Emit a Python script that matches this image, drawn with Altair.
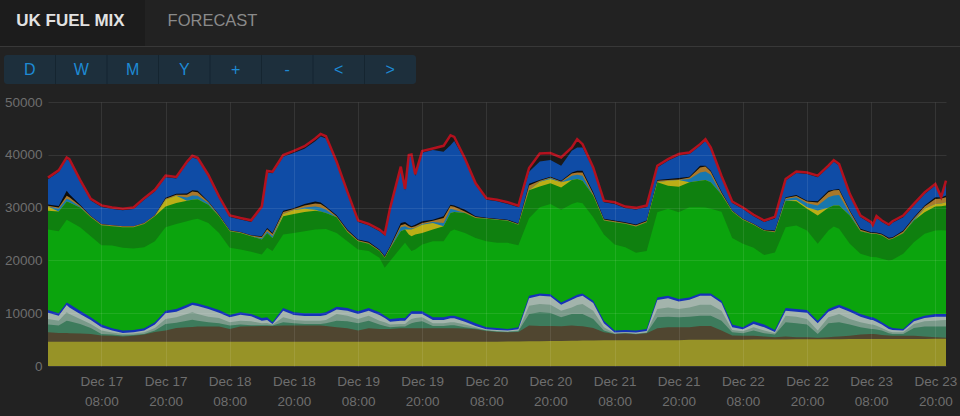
import altair as alt
import pandas as pd

# ---------------- data (cumulative tops of each band, MW) ----------------
START = "2013-12-16 22:00"
HOURS = [0, 2, 3.5, 4, 6, 8, 10, 12, 14, 16,
         18, 20, 22, 24, 26, 27, 28, 30, 32, 34,
         36, 38, 40, 41, 42, 44, 46, 48, 50, 51,
         52, 54, 56, 58, 60, 62, 63, 64, 66, 66.8,
         67.5, 68, 68.7, 70, 72, 74, 75.3, 76, 78, 80,
         82, 84, 86, 88, 90, 92, 94, 96, 98, 99,
         100, 102, 104, 106, 108, 110, 112, 114, 116, 118,
         120, 122, 123, 124, 126, 128, 130, 132, 134, 136,
         138, 140, 142, 144, 146, 147, 148, 150, 152, 154,
         154.3, 155, 156, 157.3, 158, 160, 162, 164, 166, 167.1,
         168]

OLIVE = [4600, 4600, 4600, 4600, 4600, 4600, 4600, 4600, 4600, 4600,
         4600, 4600, 4600, 4600, 4600, 4600, 4600, 4600, 4600, 4600,
         4600, 4600, 4600, 4600, 4600, 4600, 4600, 4600, 4600, 4600,
         4600, 4600, 4600, 4600, 4600, 4600, 4600, 4600, 4600, 4600,
         4600, 4600, 4600, 4600, 4600, 4600, 4600, 4600, 4600, 4600,
         4600, 4600, 4650, 4650, 4700, 4700, 4750, 4750, 4800, 4800,
         4850, 4850, 4900, 4900, 4900, 4900, 4900, 4900, 4900, 4900,
         4950, 4950, 4950, 4950, 4950, 4950, 4950, 5000, 5000, 5000,
         5000, 5050, 5050, 5050, 5050, 5050, 5050, 5100, 5100, 5100,
         5100, 5100, 5100, 5100, 5100, 5100, 5100, 5100, 5150, 5150,
         5150]
BROWN = [6400, 6270, 6270, 6210, 6140, 6080, 5770, 5710, 5580, 5710,
         5960, 6460, 6710, 7210, 7340, 7400, 7460, 7460, 7460, 7020,
         7460, 7520, 7590, 7590, 7590, 7650, 7650, 7650, 7650, 7650,
         7590, 7340, 7150, 6710, 7150, 7020, 7020, 7020, 7150, 7150,
         7150, 7150, 7150, 7150, 7150, 7150, 7150, 7150, 7090, 6960,
         6650, 6460, 6400, 6460, 7650, 7590, 7590, 7520, 7650, 7590,
         7520, 7210, 6400, 6080, 6140, 6020, 6210, 7150, 7340, 7340,
         7340, 7590, 7590, 7590, 6710, 5770, 5710, 5710, 5580, 5450,
         5580, 5450, 5450, 5330, 5450, 5520, 5580, 5710, 5960, 6080,
         6080, 6000, 5890, 5770, 5710, 5710, 5710, 5580, 5450, 5400,
         5330]
TEAL_GREEN = [7840, 7650, 8590, 8460, 7960, 7210, 6080, 5960, 5770, 5890,
              6080, 6710, 7960, 8210, 8590, 8780, 8590, 8280, 8090, 7650,
              7840, 7710, 7710, 7710, 7650, 8280, 8090, 7960, 7960, 7960,
              8090, 8590, 8460, 8090, 8590, 7840, 7590, 7340, 7460, 7460,
              7840, 8090, 8280, 8460, 7590, 7590, 7710, 7710, 7340, 7090,
              6710, 6520, 6460, 6580, 9840, 10160, 10030, 9220, 9840, 9840,
              9840, 8900, 6710, 6080, 6210, 6080, 6270, 9220, 9340, 9220,
              9340, 9530, 9530, 9530, 8590, 6400, 6210, 6710, 6210, 5960,
              8280, 8090, 7840, 6080, 8090, 8210, 8280, 7840, 7340, 7020,
              7020, 6900, 6710, 6210, 6080, 6080, 7210, 7460, 7460, 7460,
              7460]
GRAY_GREEN = [8900, 8590, 10160, 9840, 8900, 7960, 6710, 6330, 6080, 6140,
              6400, 7210, 8900, 9220, 9840, 10160, 9840, 9340, 9090, 8280,
              8590, 8460, 8090, 8150, 7840, 9220, 8720, 8590, 8590, 8590,
              8720, 9840, 9530, 8900, 9530, 8590, 8280, 7840, 7960, 7960,
              8590, 8900, 9090, 9220, 8090, 8090, 8280, 8280, 7840, 7340,
              6830, 6650, 6520, 6710, 11410, 11720, 11600, 10470, 11100, 11540,
              11720, 10470, 7340, 6210, 6330, 6140, 6400, 10780, 11100, 10780,
              11100, 11600, 11600, 11600, 10470, 6830, 6580, 7340, 6710, 6210,
              9530, 9340, 8900, 6710, 9220, 9530, 9840, 8900, 8280, 7840,
              7840, 7600, 7210, 6580, 6400, 6400, 7960, 8460, 8590, 8650,
              8720]
LIGHT_GRAY = [10100, 9530, 11540, 11100, 9840, 8720, 7340, 6710, 6270, 6400,
              6710, 7840, 9970, 10280, 11100, 11540, 11350, 10780, 10100, 9220,
              9720, 9400, 8590, 8720, 7960, 10470, 9650, 9470, 9470, 9470,
              9650, 10720, 10470, 9840, 10470, 9650, 9090, 8400, 8590, 8590,
              9340, 9840, 9840, 9840, 8720, 8720, 9030, 9030, 8400, 7590,
              6960, 6830, 6710, 6960, 12850, 13290, 13170, 11600, 12540, 13040,
              13290, 11910, 8090, 6330, 6460, 6330, 6650, 12480, 12850, 12230,
              12540, 13290, 13290, 13290, 11910, 7340, 6960, 7960, 7340, 6460,
              10470, 10280, 10100, 8090, 10280, 10720, 11100, 10280, 9340, 8720,
              8720, 8400, 7840, 7020, 6830, 6710, 8460, 9090, 9340, 9340,
              9340]
BLUE_BAND = [10600, 9970, 12040, 11720, 10470, 9220, 7840, 7150, 6710, 6830,
             7150, 8280, 10470, 10780, 11600, 12040, 11850, 11290, 10600, 9650,
             10160, 9840, 9090, 9220, 8280, 10970, 10160, 9970, 9970, 9970,
             10160, 11220, 10970, 10350, 10970, 10160, 9530, 8900, 9090, 9090,
             9840, 10350, 10350, 10350, 9220, 9220, 9530, 9530, 8900, 8090,
             7340, 7210, 7020, 7340, 13290, 13730, 13610, 12040, 12980, 13480,
             13730, 12350, 8590, 6710, 6830, 6710, 7020, 12980, 13290, 12670,
             12980, 13730, 13730, 13730, 12350, 7840, 7340, 8460, 7840, 6830,
             10970, 10780, 10600, 8590, 10780, 11220, 11600, 10780, 9840, 9220,
             9220, 8900, 8280, 7460, 7210, 7020, 8900, 9530, 9840, 9840,
             9840]
BRIGHT_GREEN = [25830, 25520, 27710, 27400, 26270, 24580, 22890, 22820, 22380, 22260,
                22510, 23640, 26270, 26900, 27400, 27710, 27900, 27090, 25210, 22380,
                22070, 21630, 21130, 22380, 21760, 24890, 25210, 25520, 25830, 25900,
                25960, 25210, 23640, 22070, 21760, 20500, 18620, 19880, 22380, 23320,
                22380, 21760, 22070, 23010, 23640, 23640, 25520, 25830, 25210, 24260,
                23640, 23320, 23320, 22890, 28000, 30060, 30700, 29570, 30700, 31000,
                30810, 28170, 24890, 23010, 22510, 21440, 21760, 29120, 29760, 29120,
                30060, 30060, 30000, 29760, 29200, 24260, 23140, 22380, 21000, 21500,
                26290, 26610, 25660, 23150, 25660, 26420, 25980, 23150, 21270, 20630,
                20630, 20600, 20320, 20000, 20130, 21270, 23460, 25040, 25660, 25700,
                25660]
DARK_GREEN = [29400, 29280, 31160, 30970, 30030, 28150, 26650, 26460, 26270, 26270,
              26900, 28340, 30220, 30850, 31290, 31480, 31600, 30530, 28340, 25520,
              25210, 24580, 23950, 25210, 24260, 28340, 28780, 29150, 29400, 29280,
              28970, 28150, 25390, 23640, 23140, 21760, 20500, 22260, 25520, 25830,
              24890, 24580, 24890, 25210, 25830, 26460, 28970, 29150, 28970, 28030,
              27900, 27710, 27500, 26770, 33300, 34000, 34590, 33830, 35230, 35420,
              35100, 32270, 27550, 27230, 26930, 26420, 27230, 34780, 34150, 33970,
              34780, 35100, 35230, 34780, 32500, 29280, 27710, 26770, 25600, 25340,
              31320, 31190, 29760, 28490, 29950, 30380, 30380, 28490, 25530, 25040,
              25040, 25000, 24720, 23910, 24100, 25150, 27550, 29120, 30190, 30250,
              30380]
YELLOW = [30200, 29280, 31160, 30970, 30030, 28150, 26650, 26460, 26270, 26270,
          26900, 28340, 31480, 32230, 31290, 31480, 31600, 30530, 28340, 25520,
          25210, 24580, 23950, 25210, 24260, 28780, 29530, 29780, 29590, 29280,
          28970, 28150, 25390, 23640, 23140, 21760, 20500, 22260, 25520, 25830,
          25830, 25830, 26150, 26770, 27090, 26460, 28970, 29150, 28970, 28030,
          27900, 27710, 27500, 26770, 33300, 34900, 35420, 34780, 35230, 35420,
          35100, 32270, 27550, 27230, 26930, 26420, 27230, 34780, 35100, 35230,
          34780, 35100, 35230, 34780, 32500, 29280, 27710, 26770, 25600, 25340,
          31320, 31460, 30060, 29440, 29950, 30380, 30380, 28490, 25530, 25040,
          25040, 25000, 24720, 23910, 24100, 25150, 27550, 29760, 30700, 30800,
          31000]
TEAL = [30200, 29780, 31660, 31480, 30160, 28150, 26650, 26460, 26270, 26270,
        26900, 28340, 31480, 32230, 31920, 32290, 32230, 30850, 28340, 25520,
        25210, 24580, 24200, 25500, 24600, 28780, 29530, 30030, 30220, 30030,
        29590, 28150, 25390, 23640, 23140, 21760, 20500, 22260, 26270, 26460,
        26150, 26020, 26150, 26900, 27270, 27090, 29780, 29590, 28970, 28030,
        27900, 27710, 27500, 26770, 33300, 34950, 35610, 34780, 36040, 36230,
        36040, 32270, 27550, 27230, 26930, 26420, 27230, 34780, 35100, 35230,
        35420, 36660, 36850, 36200, 32500, 29280, 27710, 26770, 25600, 25340,
        31640, 31950, 30810, 30380, 31950, 32300, 32400, 28930, 25530, 25040,
        25040, 25000, 24720, 23910, 24100, 25150, 27800, 29760, 30700, 30800,
        31000]
ORANGE = [30350, 30030, 32230, 31980, 30350, 28340, 26840, 26650, 26460, 26460,
          27090, 28530, 31660, 32420, 32420, 33040, 32920, 31040, 28530, 25650,
          25330, 24700, 24450, 25900, 25000, 29150, 29720, 30410, 30790, 30660,
          30030, 28340, 25650, 23800, 23350, 21900, 20650, 22500, 26650, 26900,
          26460, 26270, 26460, 27090, 27530, 28030, 30280, 30160, 29280, 28200,
          28000, 27800, 27600, 26900, 34200, 35100, 35720, 34950, 36480, 36660,
          36660, 32600, 27750, 27400, 27100, 26650, 27400, 35100, 35230, 35340,
          35720, 37610, 37800, 36800, 32800, 29400, 27850, 26900, 25700, 25500,
          31830, 32210, 31140, 30950, 32890, 33300, 33340, 29310, 25800, 25200,
          25200, 25150, 24900, 24100, 24250, 25450, 27980, 30190, 31640, 31700,
          31950]
BLACK = [30600, 30280, 33170, 32540, 30530, 28400, 26900, 26650, 26460, 26460,
         27090, 28530, 31850, 32600, 32670, 33290, 33170, 31160, 28650, 25710,
         25390, 24770, 24580, 26150, 25210, 29400, 29910, 30660, 31160, 30970,
         30220, 28530, 25830, 23950, 23510, 22070, 20820, 22700, 27090, 27270,
         26770, 26460, 26770, 27400, 27710, 28340, 30530, 30410, 29590, 28340,
         28090, 27900, 27700, 27000, 34500, 35230, 35850, 35100, 36660, 36990,
         36990, 32890, 27870, 27550, 27230, 26800, 27550, 35230, 35420, 35610,
         35850, 37930, 37930, 36990, 33000, 29470, 27900, 26960, 25800, 25660,
         31950, 32400, 31320, 31190, 33210, 33400, 33530, 29440, 25980, 25340,
         25340, 25300, 25040, 24290, 24400, 25660, 28170, 30380, 31950, 31900,
         32270]
BLUE_TOP = [35380, 36760, 39200, 38890, 34940, 31360, 30110, 29730, 29480, 29730,
            31490, 33060, 35750, 35500, 38390, 39510, 39140, 35880, 31800, 28230,
            27730, 27290, 29920, 36630, 36500, 39640, 40360, 41130, 42580, 43450,
            43110, 38390, 32740, 27290, 26600, 25530, 24720, 29610, 37450, 33240,
            39640, 39760, 36000, 40390, 40890, 40570, 41820, 42600, 39010, 34310,
            31490, 31180, 30700, 30050, 36800, 38740, 39000, 37930, 40760, 41380,
            41380, 37310, 31020, 30700, 29890, 29650, 30080, 37600, 38870, 39820,
            40140, 41700, 42600, 41080, 35700, 30860, 29730, 28350, 27250, 27950,
            35120, 36550, 36360, 35740, 37630, 38700, 37950, 32290, 28190, 26930,
            26400, 28100, 27250, 26500, 27120, 28190, 30400, 32590, 34180, 32000,
            34800]
TOTAL = [35680, 37060, 39500, 39190, 35240, 31660, 30410, 30030, 29780, 30030,
         31790, 33360, 36050, 35800, 38690, 39810, 39440, 36180, 32100, 28530,
         28030, 27590, 30220, 36930, 36800, 39940, 40760, 41630, 43080, 43950,
         43510, 38690, 33040, 27590, 26900, 25830, 25020, 29910, 37750, 33540,
         39940, 40060, 36300, 40690, 41190, 41700, 43700, 43390, 39310, 34610,
         31790, 31480, 31000, 30350, 37500, 40250, 40330, 39500, 41380, 42970,
         42020, 37610, 31320, 31000, 30190, 29950, 30380, 37930, 39190, 40140,
         40440, 42020, 42970, 41380, 36000, 31160, 30030, 28650, 27550, 28250,
         35420, 36850, 36660, 36040, 37930, 39000, 38250, 32590, 28490, 27230,
         26700, 28400, 27550, 26800, 27420, 28490, 30700, 32890, 34480, 32000,
         35100]

TAB_LABELS = ["UK FUEL MIX", "FORECAST"]
BUTTONS = ["D", "W", "M", "Y", "+", "-", "<", ">"]
Y_TICKS = [0, 10000, 20000, 30000, 40000, 50000]
X_TICK_DAYS = [17, 18, 19, 20, 21, 22, 23]
X_TICK_HOURS = [8, 20]

# drawn back-to-front: each band is an area from 0 up to its cumulative top
BANDS = [
    ("other", TOTAL, "#1a1a1a"),
    ("coal", BLUE_TOP, "#0f4ca6"),
    ("oil", BLACK, "#0c0c0c"),
    ("ocgt", ORANGE, "#a8782b"),
    ("pumped", TEAL, "#1877ae"),
    ("hydro", YELLOW, "#bbae16"),
    ("ccgt2", DARK_GREEN, "#0f800f"),
    ("ccgt", BRIGHT_GREEN, "#0ba40d"),
    ("ict", BLUE_BAND, "#1531b8"),
    ("wind", LIGHT_GRAY, "#a3b4ac"),
    ("ict2", GRAY_GREEN, "#7a9a8a"),
    ("ict3", TEAL_GREEN, "#3d7b5c"),
    ("biomass", BROWN, "#504630"),
    ("nuclear", OLIVE, "#979327"),
]

for _, vals, _c in BANDS:
    assert len(vals) == len(HOURS)

times = pd.to_datetime(START) + pd.to_timedelta(HOURS, unit="h")
rows = []
for name, vals, _c in BANDS:
    for t, v in zip(times, vals):
        rows.append({"series": name, "time": t, "value": v})
df = pd.DataFrame(rows)

FONT = "Liberation Sans"
LABEL_COLOR = "#6e6e6e"

x_enc = alt.X(
    "time:T",
    title=None,
    scale=alt.Scale(domain=[alt.DateTime(year=2013, month=12, date=16, hours=22),
                            alt.DateTime(year=2013, month=12, date=23, hours=22)]),
    axis=alt.Axis(
        values=[alt.DateTime(year=2013, month=12, date=d, hours=h)
                for d in X_TICK_DAYS for h in X_TICK_HOURS],
        labelExpr="[timeFormat(datum.value, '%b %d'), timeFormat(datum.value, '%H:%M')]",
        labelColor=LABEL_COLOR, labelFont=FONT, labelFontSize=13.5,
        labelLineHeight=20, labelPadding=8, labelOverlap=False, labelFlush=False,
        ticks=False, domain=False, grid=True, gridColor="#ffffff",
        gridOpacity=0.09, gridWidth=1, zindex=1,
    ),
)
y_enc = alt.Y(
    "value:Q",
    title=None,
    stack=None,
    scale=alt.Scale(domain=[0, 50000], nice=False),
    axis=alt.Axis(
        values=Y_TICKS, format="d",
        labelColor=LABEL_COLOR, labelFont=FONT, labelFontSize=13.5,
        labelPadding=6, ticks=False, domain=False, grid=True,
        gridColor="#ffffff", gridOpacity=0.09, gridWidth=1, zindex=1,
    ),
)

base = alt.Chart(df)
layers = []
for name, _vals, color in BANDS:
    layers.append(
        base.transform_filter(alt.datum.series == name)
        .mark_area(color=color, interpolate="linear")
        .encode(x=x_enc, y=y_enc)
    )
layers.append(
    base.transform_filter(alt.datum.series == "other")
    .mark_line(color="#b3111e", strokeWidth=2.5, interpolate="linear")
    .encode(x=x_enc, y=y_enc)
)

# ---------------- header UI (in pixels relative to plot origin) ----------------
one = pd.DataFrame({"k": [0]})
hdr = alt.Chart(one)
layers.append(hdr.mark_rect(color="#1c1c1c").encode(
    x=alt.value(-48), x2=alt.value(97), y=alt.value(-102), y2=alt.value(-56)))
layers.append(hdr.mark_rule(color="#383838", strokeWidth=1).encode(
    x=alt.value(-48), x2=alt.value(912), y=alt.value(-55.5)))
layers.append(hdr.mark_text(text=TAB_LABELS[0], font=FONT, fontSize=17, fontWeight="bold",
                            color="#e2e2e2", align="center", baseline="middle").encode(
    x=alt.value(22.5), y=alt.value(-81)))
layers.append(hdr.mark_text(text=TAB_LABELS[1], font=FONT, fontSize=16.5,
                            color="#8a8a8a", align="center", baseline="middle").encode(
    x=alt.value(164.5), y=alt.value(-81)))
layers.append(hdr.mark_rect(color="#1d2f3c", cornerRadius=3).encode(
    x=alt.value(-44), x2=alt.value(368), y=alt.value(-47), y2=alt.value(-18)))
for i in range(1, len(BUTTONS)):
    xs = -44 + 51.5 * i
    layers.append(hdr.mark_rule(color="#152530", strokeWidth=1).encode(
        x=alt.value(xs), y=alt.value(-47), y2=alt.value(-18)))
for i, b in enumerate(BUTTONS):
    layers.append(hdr.mark_text(text=b, font=FONT, fontSize=16, color="#1d8ad4",
                                align="center", baseline="middle").encode(
        x=alt.value(-44 + 51.5 * (i + 0.5)), y=alt.value(-32)))

chart = alt.layer(*layers).properties(
    width=898, height=264,
    padding={"left": 48, "top": 102, "right": 14, "bottom": 50},
    autosize=alt.AutoSizeParams(type="none"),
    background="#222222",
).configure_view(stroke=None)

chart.save("out.html", embed_options={"renderer": "svg", "actions": False})
